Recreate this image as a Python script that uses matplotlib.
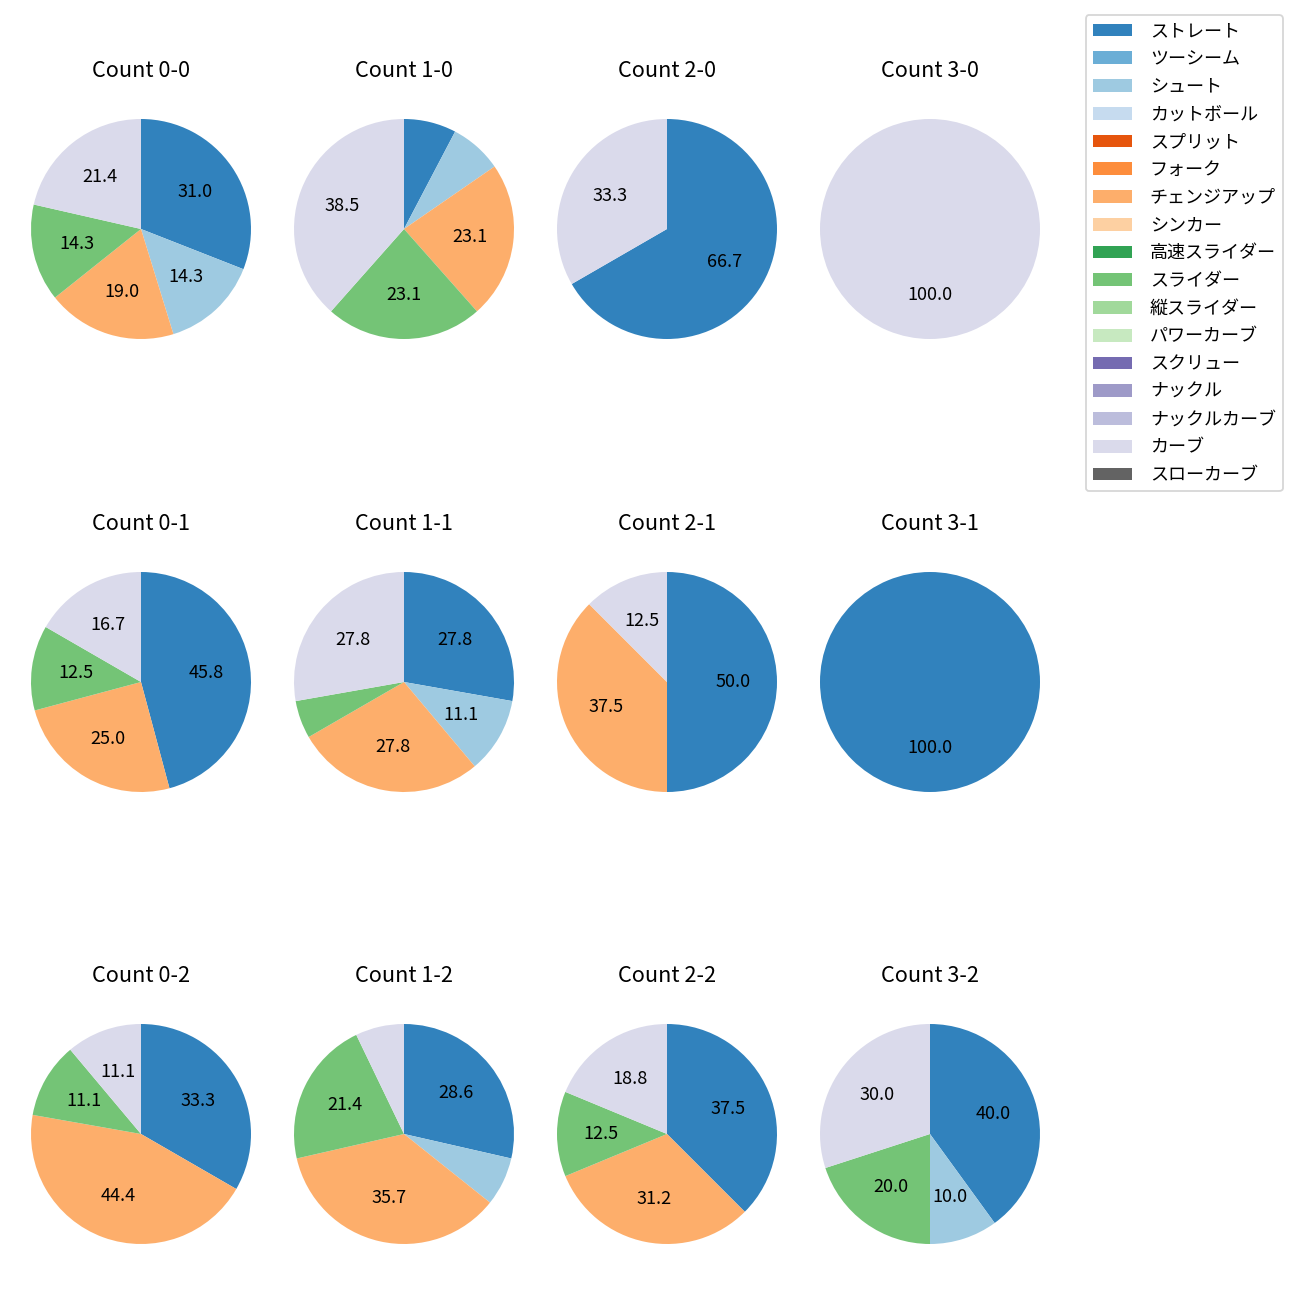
import matplotlib
matplotlib.use("Agg")
import matplotlib.pyplot as plt
from matplotlib.patches import Patch
import numpy as np

plt.rcParams['font.family'] = ['Noto Sans CJK JP', 'DejaVu Sans']

pitch_types = ["ストレート", "ツーシーム", "シュート", "カットボール", "スプリット", "フォーク",
               "チェンジアップ", "シンカー", "高速スライダー", "スライダー", "縦スライダー",
               "パワーカーブ", "スクリュー", "ナックル", "ナックルカーブ", "カーブ", "スローカーブ"]

count_titles = ["Count 0-0", "Count 1-0", "Count 2-0", "Count 3-0",
                "Count 0-1", "Count 1-1", "Count 2-1", "Count 3-1",
                "Count 0-2", "Count 1-2", "Count 2-2", "Count 3-2"]

# pitch counts per ball-strike count: {pitch type: number}
c00 = {"ストレート": 13, "シュート": 6, "チェンジアップ": 8, "スライダー": 6, "カーブ": 9}
c10 = {"ストレート": 1, "シュート": 1, "チェンジアップ": 3, "スライダー": 3, "カーブ": 5}
c20 = {"ストレート": 2, "カーブ": 1}
c30 = {"カーブ": 1}
c01 = {"ストレート": 11, "チェンジアップ": 6, "スライダー": 3, "カーブ": 4}
c11 = {"ストレート": 5, "シュート": 2, "チェンジアップ": 5, "スライダー": 1, "カーブ": 5}
c21 = {"ストレート": 4, "チェンジアップ": 3, "カーブ": 1}
c31 = {"ストレート": 1}
c02 = {"ストレート": 3, "チェンジアップ": 4, "スライダー": 1, "カーブ": 1}
c12 = {"ストレート": 4, "シュート": 1, "チェンジアップ": 5, "スライダー": 3, "カーブ": 1}
c22 = {"ストレート": 6, "チェンジアップ": 5, "スライダー": 2, "カーブ": 3}
c32 = {"ストレート": 4, "シュート": 1, "スライダー": 2, "カーブ": 3}

count_data = [c00, c10, c20, c30, c01, c11, c21, c31, c02, c12, c22, c32]

cmap = plt.get_cmap('tab20c')
type_colors = [cmap(i) for i in range(len(pitch_types))]

fig = plt.figure(figsize=(10, 10), dpi=130)
W = H = 1300.0
col_centers = [141, 404, 667, 930]
row_centers = [229, 682, 1134]
size = 275

for idx, (title, data) in enumerate(zip(count_titles, count_data)):
    r, c = divmod(idx, 4)
    cx, cy = col_centers[c], row_centers[r]
    ax = fig.add_axes([(cx - size / 2) / W, 1 - (cy + size / 2) / H, size / W, size / H])
    labels = [p for p in pitch_types if data.get(p, 0) > 0]
    vals = [data[p] for p in labels]
    cols = [type_colors[pitch_types.index(p)] for p in labels]
    ax.pie(vals, colors=cols, startangle=90, counterclock=False,
           autopct=lambda p: f'{p:.1f}' if p >= 9.5 else '')
    ax.set_title(title, fontsize=12, pad=8.2)

handles = [Patch(facecolor=type_colors[i], label=pitch_types[i]) for i in range(len(pitch_types))]
fig.legend(handles=handles, loc='upper right', bbox_to_anchor=(1292 / W, 1 - 6 / H),
           handlelength=2.15, handletextpad=1.0, labelspacing=0.54)

fig.savefig("out.png", dpi=130)
